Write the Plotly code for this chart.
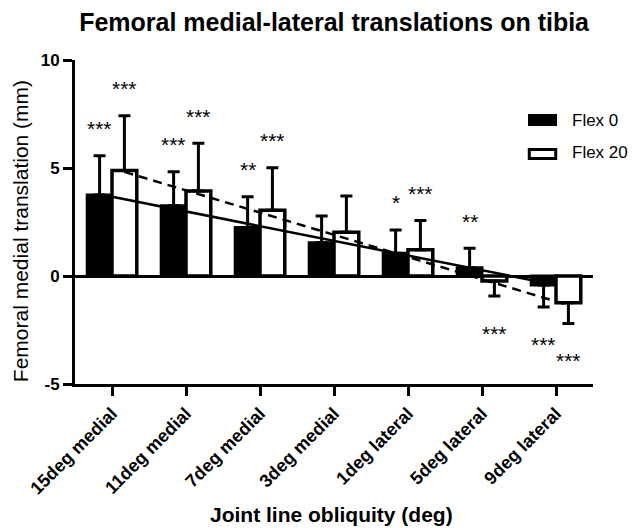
import plotly.graph_objects as go

categories = ["15deg medial", "11deg medial", "7deg medial", "3deg medial",
              "1deg lateral", "5deg lateral", "9deg lateral"]
flex0_mean = [3.75, 3.25, 2.25, 1.54, 1.05, 0.38, -0.42]
flex0_sd = [1.82, 1.58, 1.42, 1.24, 1.08, 0.90, 1.02]
flex20_mean = [4.88, 3.93, 3.04, 2.02, 1.22, -0.23, -1.24]
flex20_sd = [2.54, 2.22, 1.97, 1.68, 1.35, 0.70, 0.96]
flex0_sig = ["***", "***", "**", "", "*", "**", "***"]
flex20_sig = ["***", "***", "***", "", "***", "***", "***"]
# linear trend lines (values at first and last group)
trend_flex0 = [3.78, -0.30]
trend_flex20 = [4.82, -1.35]
y_ticks = [-5, 0, 5, 10]

FONT = "Liberation Sans, Arial, sans-serif"
BW = 0.335
idx = list(range(len(categories)))


def err_arrays(means, sds):
    plus = [s if m >= 0 else 0 for m, s in zip(means, sds)]
    minus = [0 if m >= 0 else s for m, s in zip(means, sds)]
    return plus, minus


fig = go.Figure()
p0, m0 = err_arrays(flex0_mean, flex0_sd)
p20, m20 = err_arrays(flex20_mean, flex20_sd)

fig.add_trace(go.Bar(
    x=idx, y=flex0_mean, width=BW, offset=-BW, name="Flex 0",
    marker=dict(color="black", line=dict(color="black", width=3)),
    error_y=dict(type="data", symmetric=False, array=p0, arrayminus=m0,
                 color="black", thickness=3, width=6),
    showlegend=False))
fig.add_trace(go.Bar(
    x=idx, y=flex20_mean, width=BW, offset=0, name="Flex 20",
    marker=dict(color="white", line=dict(color="black", width=3.5)),
    error_y=dict(type="data", symmetric=False, array=p20, arrayminus=m20,
                 color="black", thickness=3, width=6),
    showlegend=False))

fig.add_trace(go.Scatter(
    x=[idx[0] - BW / 2, idx[-1] - BW / 2], y=trend_flex0, mode="lines",
    line=dict(color="black", width=2.5), showlegend=False, hoverinfo="skip"))
fig.add_trace(go.Scatter(
    x=[idx[0] + BW / 2, idx[-1] + BW / 2], y=trend_flex20, mode="lines",
    line=dict(color="black", width=2.5, dash="9px,6px"), showlegend=False,
    hoverinfo="skip"))

annotations = []
for means, sds, sigs, off in [(flex0_mean, flex0_sd, flex0_sig, -BW / 2),
                              (flex20_mean, flex20_sd, flex20_sig, BW / 2)]:
    for i, (m, s, t) in enumerate(zip(means, sds, sigs)):
        if not t:
            continue
        if m >= 0:
            yv, ys = m + s, 27
        else:
            yv, ys = m - s, -37
        annotations.append(dict(x=i + off, y=yv, xref="x", yref="y", text=t,
                                showarrow=False, yshift=ys, yanchor="middle",
                                font=dict(family=FONT, size=21, color="black")))

# legend drawn manually
annotations.append(dict(x=0.956, y=0.8148, xref="paper", yref="paper",
                        text="Flex 0", showarrow=False, xanchor="left",
                        yanchor="middle", font=dict(family=FONT, size=17, color="black")))
annotations.append(dict(x=0.956, y=0.713, xref="paper", yref="paper",
                        text="Flex 20", showarrow=False, xanchor="left",
                        yanchor="middle", font=dict(family=FONT, size=17, color="black")))
# axis titles
annotations.append(dict(x=0.495, y=-0.404, xref="paper", yref="paper",
                        text="<b>Joint line obliquity (deg)</b>", showarrow=False,
                        xanchor="center", yanchor="middle",
                        font=dict(family=FONT, size=21, color="black")))
annotations.append(dict(x=-0.106, y=0.472, xref="paper", yref="paper",
                        text="Femoral medial translation (mm)", showarrow=False,
                        textangle=-90, xanchor="center", yanchor="middle",
                        font=dict(family=FONT, size=21, color="black")))
shapes = [
    dict(type="rect", xref="paper", yref="paper", x0=0.8745, x1=0.9305,
         y0=0.7963, y1=0.8333, fillcolor="black", line=dict(color="black", width=0)),
    dict(type="rect", xref="paper", yref="paper", x0=0.877, x1=0.928,
         y0=0.6960, y1=0.7240, fillcolor="white", line=dict(color="black", width=3)),
]

fig.update_layout(
    width=632, height=520,
    margin=dict(l=67, r=47, t=52, b=144, autoexpand=False),
    paper_bgcolor="white", plot_bgcolor="white",
    title=dict(text="<b>Femoral medial-lateral translations on tibia</b>",
               x=0.516, xanchor="center", y=0.973, yanchor="middle",
               font=dict(family=FONT, size=25, color="black")),
    xaxis=dict(range=[-0.5, 6.5], tickvals=idx,
               ticktext=["<b>%s</b>" % c for c in categories],
               tickangle=-45, ticks="outside", ticklen=9, tickwidth=3,
               tickcolor="black", showline=True, linewidth=3, linecolor="black",
               showgrid=False, zeroline=False, automargin=False,
               tickfont=dict(family=FONT, size=18, color="black")),
    yaxis=dict(range=[-5, 10], tickvals=y_ticks,
               ticktext=["<b>%d</b>" % v for v in y_ticks],
               ticks="outside", ticklen=9, tickwidth=3, tickcolor="black",
               showline=True, linewidth=3, linecolor="black",
               showgrid=False, zeroline=True, zerolinewidth=3,
               zerolinecolor="black", automargin=False,
               tickfont=dict(family=FONT, size=17, color="black")),
    annotations=annotations, shapes=shapes,
)

fig.write_html("out.html")
